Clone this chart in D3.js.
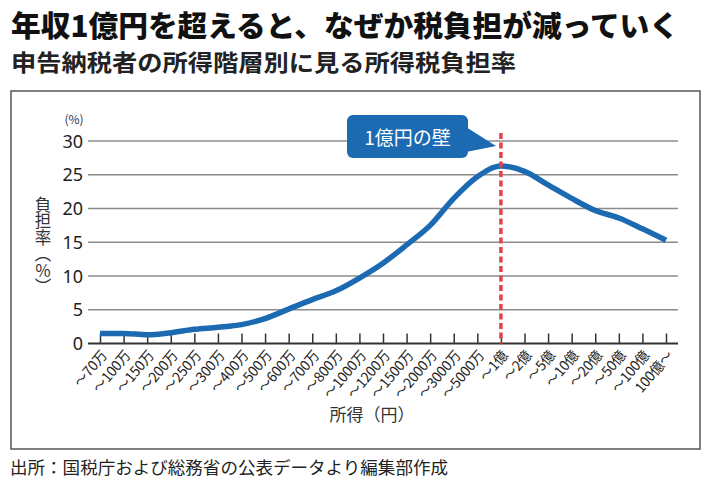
<!DOCTYPE html>
<html>
<head>
    <meta charset="utf-8">
    <title>年収1億円を超えると、なぜか税負担が減っていく</title>
    <script src="https://cdn.jsdelivr.net/npm/d3@7/dist/d3.min.js"></script>
    <style>
        body { margin: 0; background: #fff; }
        svg { display: block; font-family: "Noto Sans CJK JP", "Noto Sans", sans-serif; }
    </style>
</head>
<body>
    <div id="chart"></div>

    <script>
        // data
        const incomeBands = ['～70万', '～100万', '～150万', '～200万', '～250万', '～300万', '～400万',
            '～500万', '～600万', '～700万', '～800万', '～1000万', '～1200万', '～1500万', '～2000万',
            '～3000万', '～5000万', '～1億', '～2億', '～5億', '～10億', '～20億', '～50億', '～100億', '100億～'];
        const taxRates = [1.5, 1.5, 1.3, 1.6, 2.1, 2.4, 2.8, 3.7, 5.1, 6.5, 7.8, 9.7, 11.9, 14.6, 17.5,
            21.5, 24.7, 26.3, 25.5, 23.5, 21.5, 19.7, 18.6, 17.0, 15.3];
        const yTicks = [0, 5, 10, 15, 20, 25, 30];
        const wallBand = '～1億';

        const width = 710, height = 485;
        const blue = '#1c6ab2';

        const svg = d3.select('#chart').append('svg')
            .attr('width', width)
            .attr('height', height);

        // headings
        svg.append('text')
            .attr('x', 11).attr('y', 37)
            .attr('textLength', 668).attr('lengthAdjust', 'spacingAndGlyphs')
            .style('font-size', '29px').style('font-weight', 900).style('fill', '#111')
            .text('年収1億円を超えると、なぜか税負担が減っていく');

        svg.append('text')
            .attr('x', 11).attr('y', 71)
            .attr('textLength', 505).attr('lengthAdjust', 'spacingAndGlyphs')
            .style('font-size', '23px').style('font-weight', 700).style('fill', '#222')
            .text('申告納税者の所得階層別に見る所得税負担率');

        // frame
        svg.append('rect')
            .attr('x', 11).attr('y', 91)
            .attr('width', 689).attr('height', 358)
            .style('fill', 'none').style('stroke', '#555').style('stroke-width', 1.5);

        svg.append('text')
            .attr('x', 10).attr('y', 474)
            .attr('textLength', 438).attr('lengthAdjust', 'spacingAndGlyphs')
            .style('font-size', '17px').style('fill', '#222')
            .text('出所：国税庁および総務省の公表データより編集部作成');

        // scales
        const x = d3.scalePoint().domain(incomeBands).range([100, 666]);
        const y = d3.scaleLinear().domain([0, 30]).range([343.5, 141]);
        const plotLeft = 88, plotRight = 678;

        // gridlines
        svg.append('g').selectAll('line')
            .data(yTicks.filter(d => d > 0))
            .enter().append('line')
            .attr('x1', plotLeft).attr('x2', plotRight)
            .attr('y1', d => y(d)).attr('y2', d => y(d))
            .style('stroke', '#8c8c8c').style('stroke-width', 1.5);

        // y tick labels
        svg.append('g').selectAll('text')
            .data(yTicks)
            .enter().append('text')
            .attr('x', 83).attr('y', d => y(d) + 6.5)
            .style('text-anchor', 'end')
            .style('font-family', '"Noto Sans", sans-serif')
            .style('font-size', '18px').style('fill', '#222')
            .text(d => d);

        svg.append('text')
            .attr('x', 74).attr('y', 124)
            .style('text-anchor', 'middle')
            .style('font-size', '12px').style('fill', '#333')
            .text('(%)');

        svg.append('text')
            .attr('x', 43).attr('y', 196)
            .style('writing-mode', 'vertical-rl')
            .style('font-size', '16.5px').style('fill', '#333')
            .text('負担率（％）');

        // x axis
        const xAxis = d3.axisBottom(x).tickSize(-10).tickSizeOuter(0).tickFormat('');
        const axisG = svg.append('g')
            .attr('transform', `translate(0,${y(0)})`)
            .call(xAxis);
        axisG.select('.domain').remove();
        axisG.selectAll('.tick line').style('stroke', '#333').style('stroke-width', 1.5);
        svg.append('line')
            .attr('x1', plotLeft).attr('x2', plotRight)
            .attr('y1', y(0)).attr('y2', y(0))
            .style('stroke', '#333').style('stroke-width', 1.8);

        svg.append('g').selectAll('text')
            .data(incomeBands)
            .enter().append('text')
            .attr('transform', d => `translate(${x(d) + 4},${y(0) + 9}) rotate(-50)`)
            .style('text-anchor', 'end')
            .style('font-size', '14px').style('letter-spacing', '-0.3px').style('fill', '#222')
            .attr('dy', '0.35em')
            .text(d => d);

        svg.append('text')
            .attr('x', 372).attr('y', 421)
            .style('text-anchor', 'middle')
            .style('font-size', '17px').style('fill', '#333')
            .text('所得（円）');

        // line
        const line = d3.line()
            .x((d, i) => x(incomeBands[i]))
            .y(d => y(d))
            .curve(d3.curveMonotoneX);

        svg.append('path')
            .datum(taxRates)
            .attr('d', line)
            .style('fill', 'none')
            .style('stroke', blue)
            .style('stroke-width', 5.5)
            .style('stroke-linejoin', 'round');

        // 1億円の壁
        svg.append('line')
            .attr('x1', x(wallBand)).attr('x2', x(wallBand))
            .attr('y1', 133).attr('y2', y(0))
            .style('stroke', '#e5434b')
            .style('stroke-width', 3.5)
            .style('stroke-dasharray', '6,3.5');

        const bx = 347, by = 115, bw = 121, bh = 43;
        svg.append('path')
            .attr('d', `M${bx + bw - 2},${by + 12} L496,146 L${bx + bw - 2},${by + bh - 6} Z`)
            .style('fill', blue);
        svg.append('rect')
            .attr('x', bx).attr('y', by)
            .attr('width', bw).attr('height', bh)
            .attr('rx', 6)
            .style('fill', blue);
        svg.append('text')
            .attr('x', bx + bw / 2).attr('y', by + 30)
            .style('text-anchor', 'middle')
            .style('font-size', '19px').style('fill', '#fff')
            .text('1億円の壁');
    </script>
</body>
</html>
